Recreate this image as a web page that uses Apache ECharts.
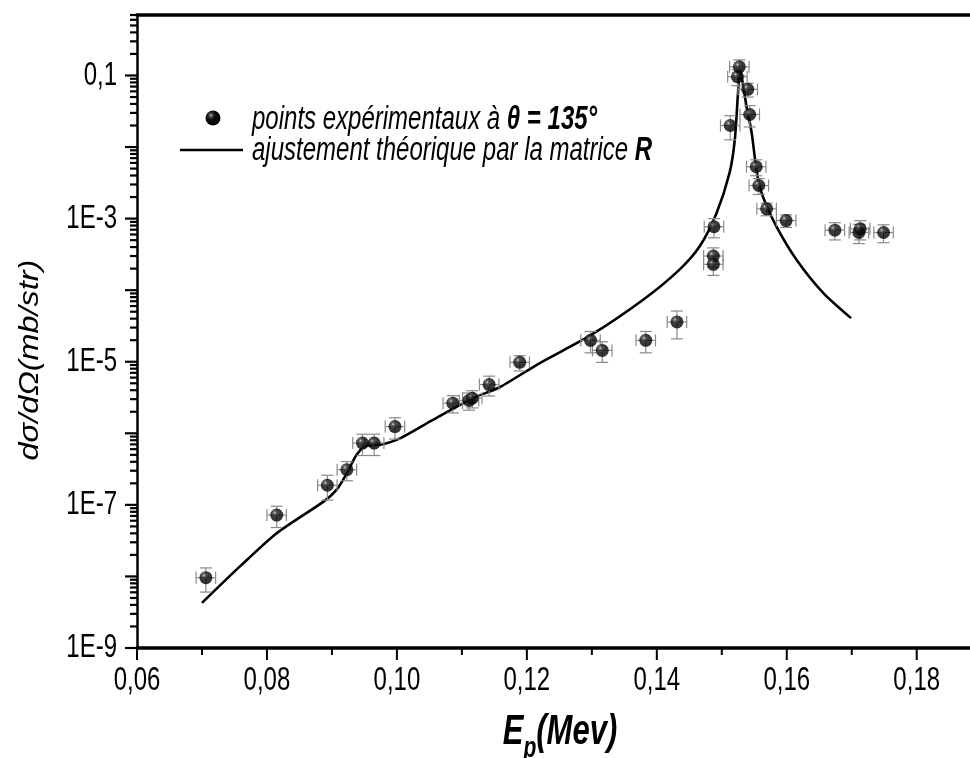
<!DOCTYPE html>
<html><head><meta charset="utf-8">
<script src="https://cdn.jsdelivr.net/npm/echarts@6/dist/echarts.min.js"></script>
<style>html,body{margin:0;padding:0;background:#fff}#c{width:970px;height:758px}</style>
</head><body><div id="c"></div>
<script>
// ---- experimental points (E in MeV, dσ/dΩ in mb/str, relative vertical error) ----
const energy = [0.0706, 0.0815, 0.0893, 0.0923, 0.0947, 0.0965, 0.0997, 0.1086, 0.1111, 0.1116,
  0.1142, 0.1189, 0.1298, 0.1316, 0.1383, 0.1431, 0.1488, 0.1487, 0.1487, 0.1513,
  0.1524, 0.1527, 0.1540, 0.1543, 0.1553, 0.1557, 0.1569, 0.1599, 0.1674, 0.1711,
  0.1713, 0.1749];
const sigma = [9.6e-9, 7.2e-8, 1.88e-7, 3.1e-7, 7.3e-7, 7.3e-7, 1.24e-6, 2.64e-6, 2.88e-6, 3.1e-6,
  4.8e-6, 9.8e-6, 1.99e-5, 1.44e-5, 1.99e-5, 3.6e-5, 7.7e-4, 3.0e-4, 2.3e-4, 0.02,
  0.096, 0.132, 0.064, 0.0285, 0.0053, 0.0029, 0.00137, 9.4e-4, 6.9e-4, 6.4e-4,
  7.2e-4, 6.4e-4];
const relErr = [0.37, 0.33, 0.38, 0.30, 0.33, 0.33, 0.33, 0.27, 0.27, 0.27,
  0.31, 0.24, 0.33, 0.32, 0.33, 0.42, 0.30, 0.30, 0.30, 0.37,
  0.25, 0.25, 0.22, 0.33, 0.25, 0.25, 0.20, 0.20, 0.27, 0.30,
  0.30, 0.28];
const energyErr = 0.0015;

// ---- R-matrix fit curve ----
const fitEnergy = [0.0700, 0.0758, 0.0815, 0.0887, 0.0907, 0.0923, 0.0938, 0.0953, 0.0974, 0.1005,
  0.1056, 0.1117, 0.1158, 0.1220, 0.1297, 0.1379, 0.1435, 0.1466, 0.1492, 0.1512,
  0.1520, 0.1525, 0.1528, 0.1538, 0.1546, 0.1554, 0.1563, 0.1584, 0.1615, 0.1656, 0.1699];
const fitSigma = [4.27e-9, 1.37e-8, 4.02e-8, 1.11e-7, 1.62e-7, 2.77e-7, 5.0e-7, 6.68e-7, 6.9e-7, 8.5e-7,
  1.55e-6, 3.1e-6, 4.4e-6, 9.6e-6, 2.31e-5, 7.36e-5, 1.94e-4, 4.1e-4, 1.2e-3, 4.37e-3,
  0.0126, 0.0575, 0.115, 0.0374, 0.0158, 4.37e-3, 2.06e-3, 7.8e-4, 2.67e-4, 9.2e-5, 4.07e-5];

// ---- axes: ticks and labels ----
const xMin = 0.06, xMax = 0.1882;
const xMajorTicks = [0.06, 0.08, 0.10, 0.12, 0.14, 0.16, 0.18];
const xTickLabels = ['0,06', '0,08', '0,10', '0,12', '0,14', '0,16', '0,18'];
const xMinorTicks = [0.07, 0.09, 0.11, 0.13, 0.15, 0.17];
const yMin = 1e-9, yMax = 0.7;
const yLabelValues = [1e-9, 1e-7, 1e-5, 1e-3, 0.1];
const yTickLabels = ['1E-9', '1E-7', '1E-5', '1E-3', '0,1'];
const yDecades = [-9, -8, -7, -6, -5, -4, -3, -2, -1];
const yMantissas = [1, 2, 3, 4, 5, 6, 7, 8, 9];

const SY = 1.38; // vertical stretch of the original picture
const FONT = '"Liberation Sans", Arial, sans-serif';

const yTicks = [];
yDecades.forEach(d => yMantissas.forEach(m => {
  const v = m * Math.pow(10, d);
  if (v <= yMax * 1.0001) {
    const li = yLabelValues.findIndex(l => Math.abs(l - v) / v < 1e-6);
    yTicks.push([xMin, v, m === 1 ? 1 : 0, li]);
  }
}));
const xTicks = xMajorTicks.map((v, i) => [v, yMin, 1, i]).concat(xMinorTicks.map(v => [v, yMin, 0, -1]));

const points = energy.map((e, i) => [e, sigma[i], energyErr, relErr[i]]);
const fit = fitEnergy.map((e, i) => [e, fitSigma[i]]);

const sphere = {type:'radial', x:0.36, y:0.32, r:0.75, colorStops:[
  {offset:0, color:'#cfcfcf'}, {offset:0.14, color:'#4a4a4a'}, {offset:0.42, color:'#080808'}, {offset:1, color:'#000'}]};

const chart = echarts.init(document.getElementById('c'));
chart.setOption({
  animation: false,
  backgroundColor: '#fff',
  grid: {left:137, right:0, top:15, bottom:110, containLabel:false},
  xAxis: [{
    type:'value', min:xMin, max:xMax, position:'bottom',
    axisLine:{show:true, onZero:false, lineStyle:{color:'#000', width:3.5}},
    axisTick:{show:false}, minorTick:{show:false}, splitLine:{show:false}, axisLabel:{show:false}
  },{
    type:'value', min:xMin, max:xMax, position:'top',
    axisLine:{show:true, onZero:false, lineStyle:{color:'#000', width:3.5}},
    axisTick:{show:false}, axisLabel:{show:false}, splitLine:{show:false}
  }],
  yAxis: {
    type:'log', logBase:10, min:yMin, max:yMax,
    axisLine:{show:true, onZero:false, lineStyle:{color:'#000', width:2.5}},
    axisTick:{show:false}, minorTick:{show:false}, splitLine:{show:false}, axisLabel:{show:false}
  },
  graphic: [
    {type:'text', x:30, y:360, rotation:Math.PI/2, scaleX:1.2, z:100,
      style:{text:'dσ/dΩ(mb/str)', font:'italic 27px ' + FONT, fill:'#000', align:'center', verticalAlign:'middle'}},
    {type:'text', x:560, y:732, scaleY:SY, z:100,
      style:{text:'{e|E}{p|p}{m|(Mev)}', fill:'#000', align:'center', verticalAlign:'middle',
        rich:{
          e:{font:'italic bold 31px ' + FONT, fill:'#000', lineHeight:46, verticalAlign:'middle'},
          p:{font:'italic bold 21px ' + FONT, fill:'#000', lineHeight:46, verticalAlign:'bottom'},
          m:{font:'italic bold 31px ' + FONT, fill:'#000', lineHeight:46, verticalAlign:'middle'}
        }}},
    {type:'circle', shape:{cx:213, cy:118, r:7.5}, style:{fill:sphere}, z:100},
    {type:'line', shape:{x1:180, y1:150, x2:243, y2:150}, style:{stroke:'#000', lineWidth:2.5}, z:100},
    {type:'text', x:252, y:120, scaleY:SY, z:100,
      style:{text:'{n|points expérimentaux à }{b|θ = 135°}', verticalAlign:'middle', fill:'#000',
        rich:{n:{font:'italic 24px ' + FONT, fill:'#000'}, b:{font:'italic bold 24px ' + FONT, fill:'#000'}}}},
    {type:'text', x:252, y:151, scaleY:SY, z:100,
      style:{text:'{n|ajustement théorique par la matrice }{b|R}', verticalAlign:'middle', fill:'#000',
        rich:{n:{font:'italic 24px ' + FONT, fill:'#000'}, b:{font:'italic bold 24px ' + FONT, fill:'#000'}}}}
  ],
  series: [
    {
      type:'custom', name:'yAxisMarks', coordinateSystem:'cartesian2d', clip:false, silent:true, z:5,
      encode:{x:0, y:1}, data:yTicks,
      renderItem:(params, api) => {
        const p = api.coord([api.value(0), api.value(1)]);
        const major = api.value(2) === 1;
        const li = api.value(3);
        const len = major ? 12 : 7;
        const children = [{type:'line', shape:{x1:p[0]-len, y1:p[1], x2:p[0], y2:p[1]}, style:{stroke:'#000', lineWidth:2.2}}];
        if (li >= 0) children.push({type:'text', x:p[0]-20, y:p[1], scaleY:SY,
          style:{text:yTickLabels[li], font:'24px ' + FONT, fill:'#000', align:'right', verticalAlign:'middle'}});
        return {type:'group', children};
      }
    },
    {
      type:'custom', name:'xAxisMarks', coordinateSystem:'cartesian2d', clip:false, silent:true, z:5,
      encode:{x:0, y:1}, data:xTicks,
      renderItem:(params, api) => {
        const p = api.coord([api.value(0), api.value(1)]);
        const major = api.value(2) === 1;
        const li = api.value(3);
        const len = major ? 12 : 7;
        const children = [{type:'line', shape:{x1:p[0], y1:p[1], x2:p[0], y2:p[1]+len}, style:{stroke:'#000', lineWidth:2}}];
        if (li >= 0) children.push({type:'text', x:p[0], y:p[1]+16, scaleY:SY,
          style:{text:xTickLabels[li], font:'24px ' + FONT, fill:'#000', align:'center', verticalAlign:'top'}});
        return {type:'group', children};
      }
    },
    {
      type:'line', name:'fit', data:fit, showSymbol:false, smooth:0.25, z:3,
      lineStyle:{color:'#000', width:2.6}, silent:true
    },
    {
      type:'custom', name:'errors', coordinateSystem:'cartesian2d', silent:true, z:4,
      encode:{x:0, y:1}, data:points,
      renderItem:(params, api) => {
        const x = api.value(0), y = api.value(1), ex = api.value(2), ey = api.value(3);
        const c = api.coord([x, y]);
        const l = api.coord([x - ex, y])[0], r = api.coord([x + ex, y])[0];
        const t = api.coord([x, y * (1 + ey)])[1], b = api.coord([x, y * (1 - ey)])[1];
        const cap = 6;
        const st = {stroke:'#8a8a8a', lineWidth:1.2};
        return {type:'group', children:[
          {type:'line', shape:{x1:l, y1:c[1], x2:r, y2:c[1]}, style:st},
          {type:'line', shape:{x1:l, y1:c[1]-cap, x2:l, y2:c[1]+cap}, style:st},
          {type:'line', shape:{x1:r, y1:c[1]-cap, x2:r, y2:c[1]+cap}, style:st},
          {type:'line', shape:{x1:c[0], y1:t, x2:c[0], y2:b}, style:st},
          {type:'line', shape:{x1:c[0]-cap, y1:t, x2:c[0]+cap, y2:t}, style:st},
          {type:'line', shape:{x1:c[0]-cap, y1:b, x2:c[0]+cap, y2:b}, style:st}
        ]};
      }
    },
    {
      type:'scatter', name:'points', data:points.map(p => [p[0], p[1]]), symbol:'circle', symbolSize:13, z:6,
      itemStyle:{color:sphere}, silent:true
    }
  ]
});
</script></body></html>
